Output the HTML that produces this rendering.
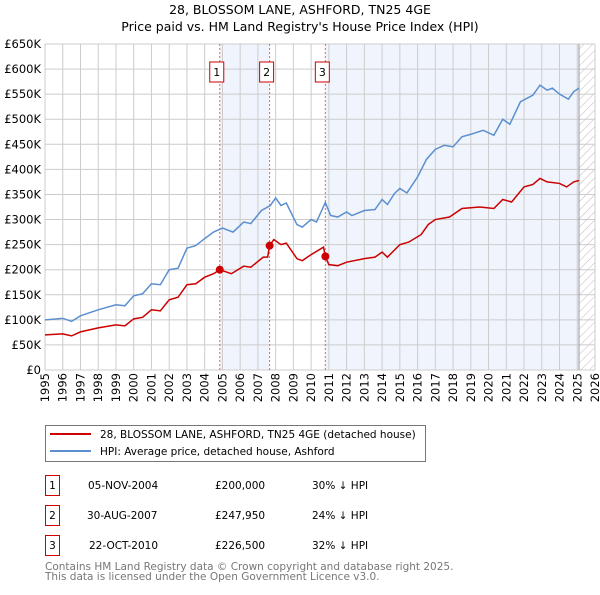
<!DOCTYPE html>
<html><head><meta charset="utf-8"><style>
body{margin:0;background:#fff;font-family:"Liberation Sans","DejaVu Sans",sans-serif;}
svg text{font-family:"DejaVu Sans","Liberation Sans",sans-serif;}
</style></head><body>
<svg id="chart" width="600" height="590" viewBox="0 0 600 590" xmlns="http://www.w3.org/2000/svg">
<defs><pattern id="hatch" width="6" height="6" patternUnits="userSpaceOnUse" patternTransform="rotate(45)"><line x1="0" y1="0" x2="0" y2="6" stroke="#bbb" stroke-width="1"/></pattern></defs>
<text x="300" y="14" text-anchor="middle" font-size="12.5">28, BLOSSOM LANE, ASHFORD, TN25 4GE</text>
<text x="300" y="31" text-anchor="middle" font-size="12.5">Price paid vs. HM Land Registry's House Price Index (HPI)</text>
<g id="bg"></g><g id="grid"></g><g id="series"></g><g id="axes"></g>
<rect x="45.5" y="425.5" width="380" height="36" fill="#fff" stroke="#777"/>
<line x1="50" y1="434" x2="91" y2="434" stroke="#cc0000" stroke-width="2"/>
<text x="100" y="438" font-size="10.5">28, BLOSSOM LANE, ASHFORD, TN25 4GE (detached house)</text>
<line x1="50" y1="451" x2="91" y2="451" stroke="#5b8fd0" stroke-width="2"/>
<text x="100" y="455" font-size="10.5">HPI: Average price, detached house, Ashford</text>
<g font-size="10.5">
<rect x="45.5" y="475.5" width="14" height="20" fill="none" stroke="#cc0000"/><text x="52.5" y="489" text-anchor="middle">1</text>
<text x="88" y="489">05-NOV-2004</text><text x="215" y="489">£200,000</text><text x="312" y="489">30% ↓ HPI</text>
<rect x="45.5" y="505.5" width="14" height="20" fill="none" stroke="#cc0000"/><text x="52.5" y="519" text-anchor="middle">2</text>
<text x="87" y="519">30-AUG-2007</text><text x="215" y="519">£247,950</text><text x="312" y="519">24% ↓ HPI</text>
<rect x="45.5" y="535.5" width="14" height="20" fill="none" stroke="#cc0000"/><text x="52.5" y="549" text-anchor="middle">3</text>
<text x="89" y="549">22-OCT-2010</text><text x="215" y="549">£226,500</text><text x="312" y="549">32% ↓ HPI</text>
</g>
<text x="45" y="570" font-size="10.5" fill="#777">Contains HM Land Registry data © Crown copyright and database right 2025.</text>
<text x="45" y="580" font-size="10.5" fill="#777">This data is licensed under the Open Government Licence v3.0.</text>
</svg>
<script>
const hpiYears=[1995,1996,1996.5,1997,1998,1999,1999.5,2000,2000.5,2001,2001.5,2002,2002.5,2003,2003.5,2004,2004.5,2005,2005.6,2006.2,2006.6,2007.2,2007.7,2008,2008.3,2008.6,2009.2,2009.5,2010,2010.3,2010.8,2011.1,2011.5,2012,2012.3,2013,2013.6,2014,2014.3,2014.7,2015,2015.4,2016,2016.5,2017,2017.5,2018,2018.5,2019,2019.7,2020.3,2020.8,2021.2,2021.8,2022.5,2022.9,2023.3,2023.6,2024,2024.5,2024.8,2025.1];
const hpiValues=[100,103,97,108,120,130,128,148,152,172,170,200,203,243,248,262,275,283,275,295,292,318,328,343,328,333,290,285,300,295,334,308,305,315,308,318,320,340,330,352,362,353,385,420,440,448,445,465,470,478,468,500,490,535,548,568,558,562,550,540,555,562];
const redYears=[1995,1996,1996.5,1997,1998,1999,1999.5,2000,2000.5,2001,2001.5,2002,2002.5,2003,2003.5,2004,2004.5,2004.85,2005.5,2006.2,2006.6,2007.3,2007.55,2007.66,2007.9,2008.3,2008.6,2009.2,2009.5,2010,2010.7,2010.8,2011,2011.5,2012,2013,2013.6,2014,2014.3,2015,2015.5,2016.2,2016.6,2017,2017.8,2018.5,2019.5,2020.3,2020.8,2021.3,2022,2022.5,2022.9,2023.3,2024,2024.4,2024.8,2025.1];
const redValues=[70,72,68,76,84,90,88,102,105,120,118,140,145,170,172,185,192,200,192,207,205,225,225,248,260,250,253,222,218,230,245,226,210,208,215,222,225,235,225,250,255,270,290,300,305,322,325,322,340,335,365,370,382,375,372,365,375,378];
const saleYears=[2004.85,2007.66,2010.8];
const salePrices=[200,247.95,226.5];
const saleLabels=["1","2","3"];
const yTicks=[0,50,100,150,200,250,300,350,400,450,500,550,600,650];
const xTicks=[1995,1996,1997,1998,1999,2000,2001,2002,2003,2004,2005,2006,2007,2008,2009,2010,2011,2012,2013,2014,2015,2016,2017,2018,2019,2020,2021,2022,2023,2024,2025,2026];
const X0=45,X1=595,Y0=370,Y1=44;
const xs=y=>X0+(y-1995)/(2026-1995)*(X1-X0);
const ys=v=>Y0-v/650*(Y0-Y1);
const NS="http://www.w3.org/2000/svg";
function mk(p,t,a){const e=document.createElementNS(NS,t);for(const k in a)e.setAttribute(k,a[k]);document.getElementById(p).appendChild(e);return e;}
let r=mk('bg','rect',{x:xs(saleYears[0]),y:Y1,width:xs(saleYears[1])-xs(saleYears[0]),height:Y0-Y1,fill:'#f0f4fc'});


r=mk('bg','rect',{x:xs(saleYears[2]),y:Y1,width:xs(2025.1)-xs(saleYears[2]),height:Y0-Y1,fill:'#f0f4fc'});


r=mk('bg','rect',{x:xs(2025.1),y:Y1,width:X1-xs(2025.1),height:Y0-Y1,fill:'url(#hatch)'});


yTicks.forEach(v=>{const l=mk('grid','line',{x1:X0,x2:X1,y1:ys(v),y2:ys(v),stroke:'#ccc'});


const t=mk('axes','text',{x:X0-4,y:ys(v)+4,'text-anchor':'end','font-size':'11.5'});t.textContent=v?'£'+v+'K':'£0';

});
xTicks.forEach(y=>{const l=mk('grid','line',{x1:xs(y),x2:xs(y),y1:Y1,y2:Y0,stroke:'#ccc'});


const t=mk('axes','text',{x:0,y:0,'text-anchor':'end','font-size':'11.5',transform:`translate(${xs(y)+4},${Y0+3}) rotate(-90)`});t.textContent=y;

});
let ln=mk('grid','line',{x1:xs(2025.1),x2:xs(2025.1),y1:Y1,y2:Y0,stroke:'#999'});


saleYears.forEach((y,i)=>{const l=mk('grid','line',{x1:xs(y),x2:xs(y),y1:Y1,y2:Y0,stroke:'#f06060','stroke-dasharray':'2,2'});


const b=mk('axes','rect',{x:xs(y)-10,y:62,width:14,height:20,fill:'#fff',stroke:'#cc0000'});


const t=mk('axes','text',{x:xs(y)-3,y:76,'text-anchor':'middle','font-size':'11'});t.textContent=saleLabels[i];

});
let p=mk('series','polyline',{points:hpiYears.map((y,i)=>xs(y)+','+ys(hpiValues[i])).join(' '),fill:'none',stroke:'#5b8fd0','stroke-width':1.5});


p=mk('series','polyline',{points:redYears.map((y,i)=>xs(y)+','+ys(redValues[i])).join(' '),fill:'none',stroke:'#cc0000','stroke-width':1.5});


saleYears.forEach((y,i)=>{const c=mk('series','circle',{cx:xs(y),cy:ys(salePrices[i]),r:4,fill:'#cc0000'});

});
</script>
</body></html>
